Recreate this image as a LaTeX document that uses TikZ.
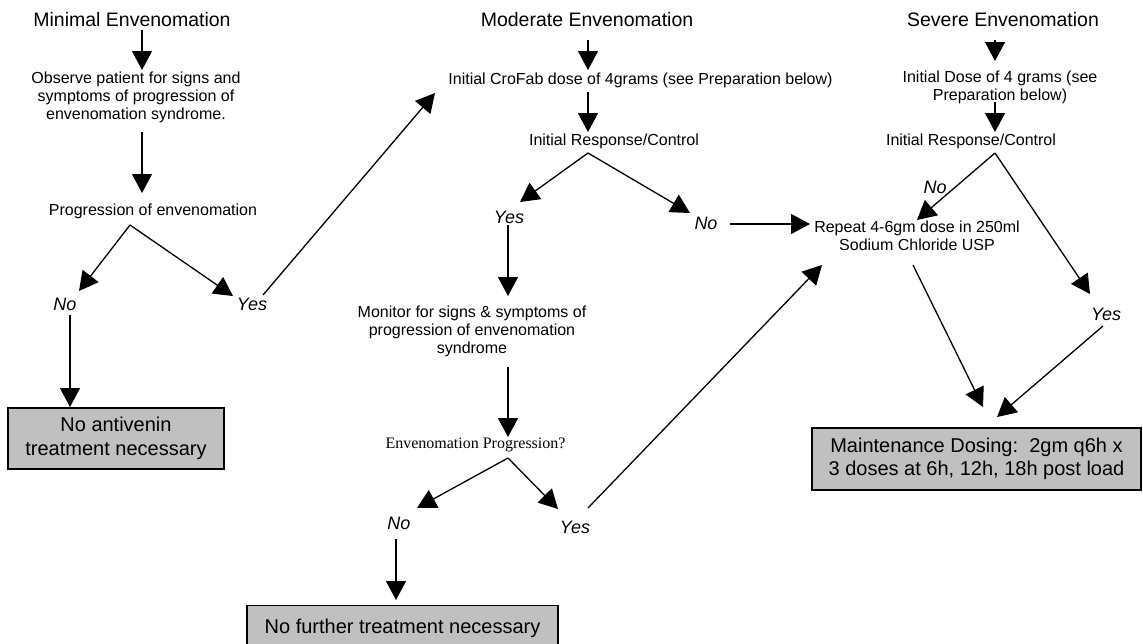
\documentclass[tikz,border=0pt]{standalone}
\usepackage{fontspec}
\setmainfont{Liberation Sans}
\newfontfamily\serifrm{Liberation Serif}
\usetikzlibrary{arrows.meta}
\definecolor{boxgray}{RGB}{192,192,192}
\begin{document}
\begin{tikzpicture}[x=1pt,y=-1pt,
  arr/.style={line width=1.3pt,-{Triangle[length=19pt,width=20pt]}},
  ln/.style={line width=1.3pt},
  title/.style={font=\fontsize{19.5}{23}\selectfont, inner sep=0pt, anchor=base},
  txt/.style={font=\fontsize{16}{18}\selectfont, inner sep=0pt, align=center},
  yn/.style={font=\fontsize{18}{21}\selectfont\itshape, inner sep=0pt, anchor=base},
  endbox/.style={draw, line width=1.3pt, fill=boxgray, font=\fontsize{20}{23.5}\selectfont, align=center, inner sep=0pt},
]
\useasboundingbox (0,0) rectangle (1143,643);
\fill[white] (0,0) rectangle (1143,643);
\clip (0,0) rectangle (1143,643);

% ---------- Minimal column ----------
\node[title] (t1) at (132,26) {Minimal Envenomation};
\node[txt, anchor=north] (obs) at (136,71.6) {Observe patient for signs and\\symptoms of progression of\\envenomation syndrome.};
\node[txt, anchor=base] (prog) at (153,215) {Progression of envenomation};
\node[yn] (no1) at (65,310) {No};
\node[yn] (yes1) at (252,310) {Yes};
\node[endbox, minimum width=216pt, minimum height=61pt] (box1) at (116,438.5) {No antivenin\\treatment necessary};

% ---------- Moderate column ----------
\node[title] (t2) at (587,26) {Moderate Envenomation};
\node[txt, anchor=base] (crofab) at (640.5,84) {Initial CroFab dose of 4grams (see Preparation below)};
\node[txt, anchor=base] (resp2) at (614,145) {Initial Response/Control};
\node[yn] (yes2) at (509,223) {Yes};
\node[yn] (no2) at (706,229) {No};
\node[txt, anchor=north] (mon) at (472,305.3) {Monitor for signs \& symptoms of\\progression of envenomation\\syndrome};
\node[inner sep=0pt, anchor=base, font=\serifrm\fontsize{16}{18}\selectfont] (envp) at (475.5,448) {Envenomation Progression?};
\node[yn] (no3) at (399,529) {No};
\node[yn] (yes3) at (575,533) {Yes};
\node[endbox, anchor=north, minimum width=311pt, inner xsep=0pt, inner ysep=13.4pt] (box2) at (402.5,605) {No further treatment necessary};

% ---------- Severe column ----------
\node[title] (t3) at (1003,26) {Severe Envenomation};
\node[txt, anchor=north] (dose3) at (1000,70.3) {Initial Dose of 4 grams (see\\Preparation below)};
\node[txt, anchor=base] (resp3) at (971,145) {Initial Response/Control};
\node[yn] (no4) at (935,193) {No};
\node[yn] (yes4) at (1106,320) {Yes};
\node[txt, anchor=north] (rep) at (917,220.3) {Repeat 4-6gm dose in 250ml\\Sodium Chloride USP};
\node[endbox, minimum width=329pt, minimum height=62pt] (box3) at (976.5,459) {Maintenance Dosing:\ \ 2gm q6h x\\3 doses at 6h, 12h, 18h post load};

% ---------- connector end points ----------
\coordinate (t1-out) at (142,30);   \coordinate (obs-in) at (142,70);
\coordinate (obs-out) at (142,132); \coordinate (prog-in) at (142,193);
\coordinate (prog-split) at (130,225);
\coordinate (no1-in) at (79,291);   \coordinate (yes1-in) at (233,296);
\coordinate (yes1-out) at (263,295); \coordinate (crofab-in) at (435,93);
\coordinate (no1-out) at (70,315);  \coordinate (box1-in) at (70,407);

\coordinate (t2-out) at (588,40);   \coordinate (crofab-top) at (588,70);
\coordinate (crofab-out) at (588,92); \coordinate (resp2-in) at (588,132);
\coordinate (resp2-split) at (588,153);
\coordinate (yes2-in) at (520,202); \coordinate (no2-in) at (690,213);
\coordinate (no2-out) at (730,224); \coordinate (rep-in1) at (810,224);
\coordinate (yes2-out) at (508,225); \coordinate (mon-in) at (508,296);
\coordinate (mon-out) at (508,367); \coordinate (envp-in) at (508,437);
\coordinate (envp-split) at (508,458);
\coordinate (no3-in) at (417,508);  \coordinate (yes3-in) at (558,509);
\coordinate (yes3-out) at (588,508); \coordinate (rep-in2) at (822,265);
\coordinate (no3-out) at (396,539); \coordinate (box2-in) at (396,600);

\coordinate (t3-out) at (995,40);   \coordinate (dose3-in) at (995,61);
\coordinate (dose3-out) at (995,102); \coordinate (resp3-in) at (995,132);
\coordinate (resp3-split) at (995,153);
\coordinate (rep-in3) at (917,220); \coordinate (yes4-in) at (1090,294);
\coordinate (rep-out) at (913,265); \coordinate (box3-in1) at (983,407);
\coordinate (yes4-out) at (1103,326); \coordinate (box3-in2) at (997,417);

% ---------- connectors ----------
\draw[arr] (t1-out) -- (obs-in);
\draw[arr] (obs-out) -- (prog-in);
\draw[arr] (prog-split) -- (no1-in);
\draw[arr] (prog-split) -- (yes1-in);
\draw[arr] (yes1-out) -- (crofab-in);
\draw[arr] (no1-out) -- (box1-in);

\draw[arr] (t2-out) -- (crofab-top);
\draw[arr] (crofab-out) -- (resp2-in);
\draw[arr] (resp2-split) -- (yes2-in);
\draw[arr] (resp2-split) -- (no2-in);
\draw[arr] (no2-out) -- (rep-in1);
\draw[arr] (yes2-out) -- (mon-in);
\draw[arr] (mon-out) -- (envp-in);
\draw[arr] (envp-split) -- (no3-in);
\draw[arr] (envp-split) -- (yes3-in);
\draw[arr] (yes3-out) -- (rep-in2);
\draw[arr] (no3-out) -- (box2-in);

\draw[arr] (t3-out) -- (dose3-in);
\draw[arr] (dose3-out) -- (resp3-in);
\draw[arr] (resp3-split) -- (rep-in3);
\draw[arr] (resp3-split) -- (yes4-in);
\draw[arr] (rep-out) -- (box3-in1);
\draw[arr] (yes4-out) -- (box3-in2);
\end{tikzpicture}
\end{document}
